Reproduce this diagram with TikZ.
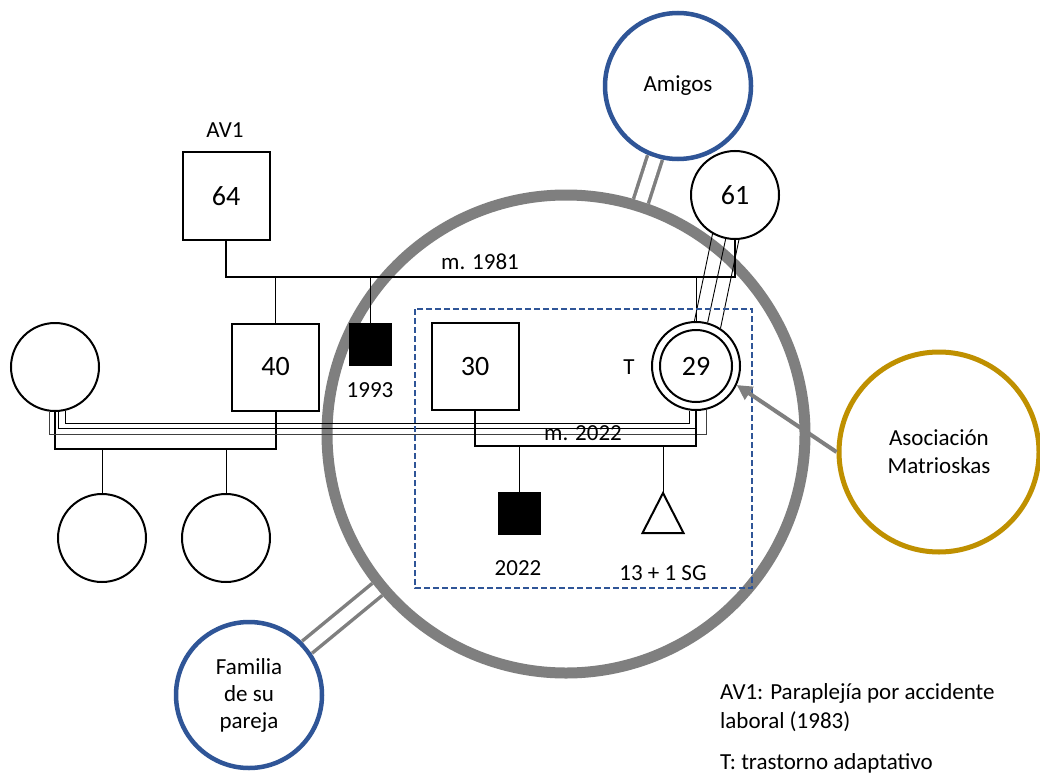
\documentclass[tikz,border=0pt]{standalone}
\usepackage{fontspec}
\setmainfont{Carlito}
\usetikzlibrary{arrows.meta}
\definecolor{ringgray}{HTML}{7F7F7F}
\definecolor{ecoblue}{HTML}{2F5597}
\definecolor{ecogold}{HTML}{BF9000}
\tikzset{
  male/.style={draw, line width=2pt, minimum size=87pt, inner sep=0pt, fill=white, font=\fontsize{28}{30}\selectfont},
  female/.style={circle, draw, line width=2pt, minimum size=88pt, inner sep=0pt, fill=white, font=\fontsize{28}{30}\selectfont},
  smallmale/.style={draw, fill=black, minimum size=42pt, inner sep=0pt},
  lbl/.style={font=\fontsize{23}{27}\selectfont, inner sep=0pt},
  marline/.style={line width=2pt},
  dropline/.style={line width=1pt},
  fusedline/.style={line width=0.9pt},
  ecoring/.style={circle, draw, line width=4.5pt, minimum size=146pt, inner sep=0pt, align=center, font=\fontsize{23}{27}\selectfont},
  ecolink/.style={draw=ringgray, line width=3.5pt, double=white, double distance=12pt},
}
\begin{document}
\begin{tikzpicture}[x=1pt,y=-1pt]
\useasboundingbox[fill=white] (0,0) rectangle (1040,778);

% big ring (household)
\node[circle, draw=ringgray, line width=11pt, minimum size=478pt, inner sep=0pt] (ring) at (566,434) {};

% ecomap circles
\node[ecoring, draw=ecoblue] (amigos) at (678,86) {Amigos};
\node[ecoring, draw=ecoblue] (familia) at (249,695) {Familia\\de su\\pareja};
\node[circle, draw=ecogold, line width=5pt, minimum size=200pt, inner sep=0pt, align=center, font=\fontsize{23}{28}\selectfont] (asoc) at (939,452) {Asociación\\Matrioskas};

\draw[ecolink] (amigos) -- (ring);
\draw[ecolink] (familia) -- (ring);

% generation I
\node[male] (av1) at (226,196) {64};
\node[lbl] (av1lbl) at (225,130) {AV1};
\node[female] (gm) at (735,195) {61};
\coordinate (m81) at (0,277);
\draw[marline] (av1.south) |- (gm.south |- m81) -- (gm.south);
\node[lbl] (m81lbl) at (480,262) {m. 1981};

% generation II
\node[male] (s40) at (275.5,367) {40};
\node[smallmale] (b93) at (370,344) {};
\node[lbl] (b93lbl) at (370,390) {1993};
\node[female] (pat) at (696,366) {29};
\draw[line width=2pt] (pat.center) circle[radius=36];
\node[lbl] (tlbl) at (629,367) {T};
\node[male] (s30) at (475,366.5) {30};
\node[female] (w40) at (55,367) {};

\draw[dropline] (s40.north) -- (s40.north |- m81);
\draw[dropline] (b93.north) -- (b93.north |- m81);
\draw[dropline] (pat.north) -- (pat.north |- m81);

% close relationship 61 - 29
\draw[fusedline] (gm.240) -- (pat.92.6);
\draw[fusedline] (gm.258) -- (pat.75.5);
\draw[fusedline] (gm.275) -- (pat.57);

% marriage of 40
\coordinate (m40) at (0,449);
\draw[marline] (w40.south) |- (s40.south |- m40) -- (s40.south);
\node[female] (c1) at (102,538) {};
\node[female] (c2) at (226,538) {};
\draw[dropline] (c1.north) -- (c1.north |- m40);
\draw[dropline] (c2.north) -- (c2.north |- m40);

% triple line w40 - patient
\coordinate (h1) at (0,423);
\coordinate (h2) at (0,428.5);
\coordinate (h3) at (0,434);
\draw[fusedline] (w40.284.5) |- (h1 -| pat.262) -- (pat.262);
\draw[fusedline] (w40.274) |- (h2 -| pat.271.3) -- (pat.271.3);
\draw[fusedline, black!75] (w40.263.5) |- (h3 -| pat.283) -- (pat.283);

% marriage 2022
\coordinate (m22) at (0,446);
\draw[marline] (s30.south) |- (pat.south |- m22) -- (pat.south);
\node[lbl] (m22lbl) at (583,433) {m. 2022};

% generation III
\node[smallmale] (b22) at (519,513.5) {};
\node[lbl] (b22lbl) at (518,568) {2022};
\draw[dropline] (b22.north) -- (b22.north |- m22);
\coordinate (preg) at (663,493);
\draw[line width=2pt, line join=miter] (preg) -- ++(20.5,40) -- ++(-41,0) -- cycle;
\draw[dropline] (preg) -- (preg |- m22);
\node[lbl] (preglbl) at (663,573) {13 + 1 SG};

% nuclear family box
\draw[ecoblue, line width=2pt, dash pattern=on 6pt off 3pt] (415,309) rectangle (752,588);

% support arrow
\draw[ringgray, line width=4pt, -{Triangle[length=15pt,width=15pt]}] (asoc.west) -- (pat.335);

% legend
\node[lbl, anchor=west] (leg1) at (720,693) {AV1: Paraplejía por accidente};
\node[lbl, anchor=west] (leg2) at (720,722) {laboral (1983)};
\node[lbl, anchor=west] (leg3) at (720,763) {T: trastorno adaptativo};
\end{tikzpicture}
\end{document}
